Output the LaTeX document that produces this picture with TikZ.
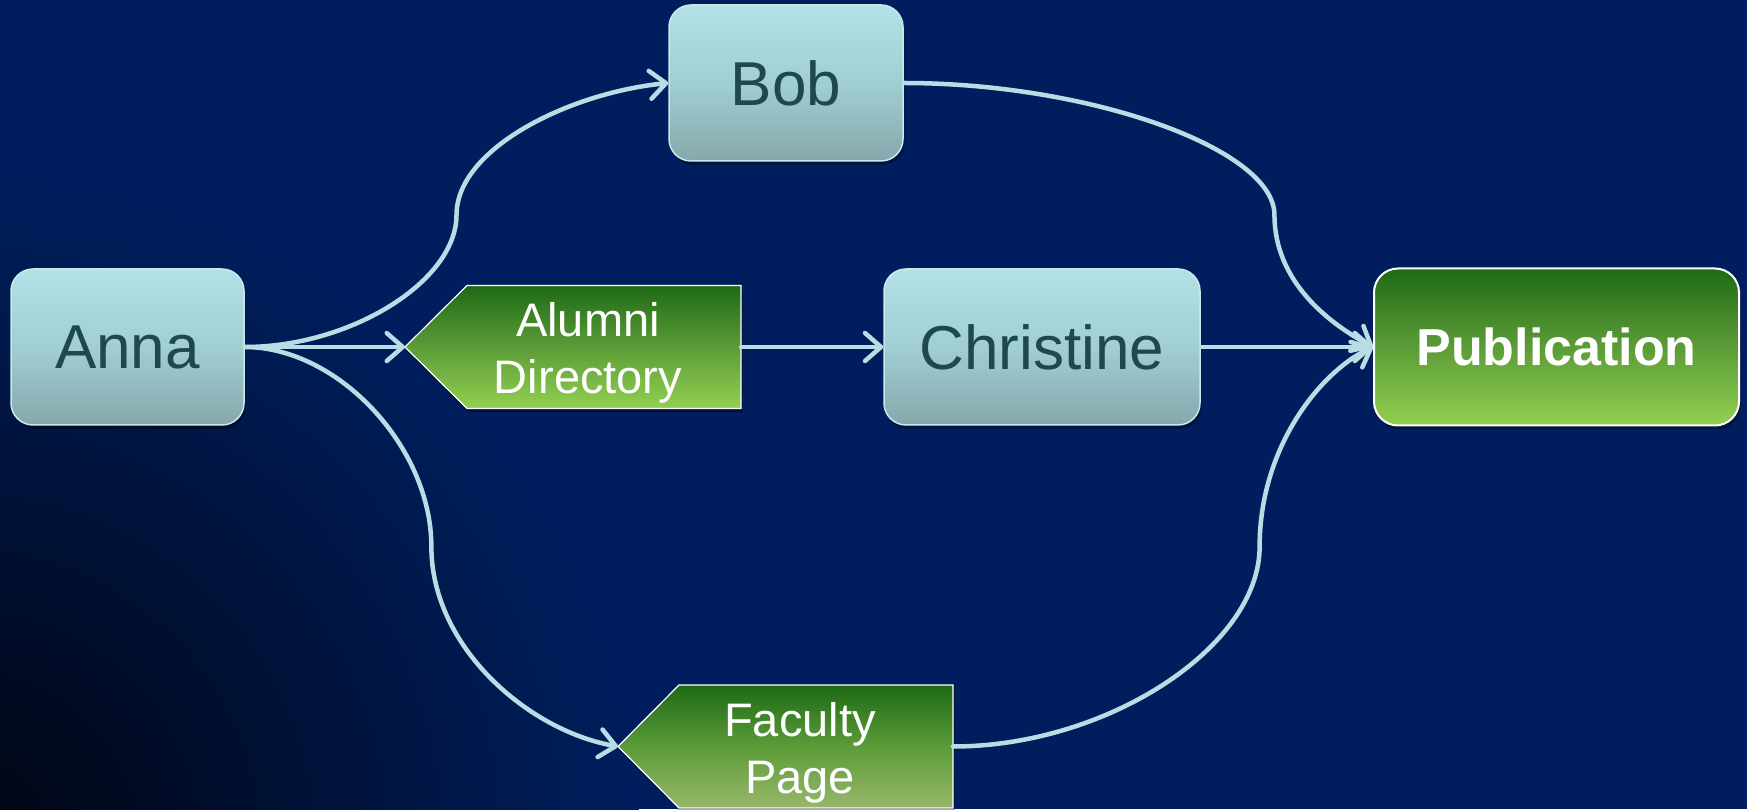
\documentclass[tikz,border=0pt]{standalone}
\usepackage{fontspec}
\setmainfont{Liberation Sans}
\usetikzlibrary{arrows.meta,calc,shadows}

\definecolor{navy}{RGB}{0,30,94}
\definecolor{darkcorner}{RGB}{0,4,14}
\definecolor{boxtop}{RGB}{178,225,230}
\definecolor{boxmid}{RGB}{160,206,211}
\definecolor{boxbot}{RGB}{134,168,171}
\definecolor{boxline}{RGB}{200,234,238}
\definecolor{boxtext}{RGB}{30,72,74}
\definecolor{gtop}{RGB}{30,106,22}
\definecolor{gmid}{RGB}{92,156,56}
\definecolor{gbot}{RGB}{146,208,80}
\definecolor{gbotf}{RGB}{152,183,106}
\definecolor{connc}{RGB}{183,222,228}

\begin{document}
\begin{tikzpicture}[x=1pt,y=1pt,
  softshadow/.style={drop shadow={shadow xshift=1.5pt,shadow yshift=-4pt,opacity=0.35,fill=black}},
  person/.style={rectangle, rounded corners=22pt, draw=boxline, line width=1.5pt,
    top color=boxtop, bottom color=boxbot, middle color=boxmid,
    text=boxtext, font=\fontsize{62}{74}\selectfont, inner sep=0pt, softshadow},
  pubbox/.style={rectangle, rounded corners=24pt, draw=white, line width=2pt,
    top color=gtop, bottom color=gbot, middle color=gmid,
    text=white, font=\fontsize{52}{62}\selectfont\bfseries, inner sep=0pt, softshadow},
  bodybox/.style={rectangle, inner sep=0pt, outer sep=0pt, minimum width=274pt, minimum height=123pt},
  pent/.style={draw=white, line width=1.2pt, line join=miter, top color=gtop, middle color=gmid, softshadow},
  penttext/.style={text=white, font=\fontsize{47}{57}\selectfont, align=center, inner sep=0pt},
  conn/.style={draw=connc, line width=4.5pt, line cap=round,
    -{Straight Barb[length=16pt,width=28pt,round]}}
]
\useasboundingbox (0,0) rectangle (1747,809);
\fill[navy] (0,0) rectangle (1747,809);
\begin{scope}
  \clip (0,0) rectangle (1747,809);
  \shade[inner color=darkcorner, outer color=navy] (-40,-40) circle (680);
\end{scope}

% pentagon shapes
\node[bodybox] (alum) at (604,462) {};
\coordinate (alumtip) at ([xshift=-62pt]alum.west);
\shade[pent, bottom color=gbot, middle color=gmid] (alum.north east) -- (alum.south east) -- (alum.south west) -- (alumtip) -- (alum.north west) -- cycle;
\node[penttext] (alumtxt) at ([xshift=-16pt,yshift=-6pt]alum.center) {Alumni\\Directory};

\node[bodybox] (fac) at (816,62.5) {};
\coordinate (factip) at ([xshift=-61pt]fac.west);
\shade[pent, bottom color=gbotf, middle color=gmid] (fac.north east) -- (fac.south east) -- (fac.south west) -- (factip) -- (fac.north west) -- cycle;
\node[penttext] (factxt) at ([xshift=-16pt,yshift=-6pt]fac.center) {Faculty\\Page};

% rounded boxes
\node[person, minimum width=233pt, minimum height=156pt] (anna) at (127.5,462) {Anna};
\node[person, minimum width=234pt, minimum height=156pt] (bob) at (786,726) {Bob};
\node[person, minimum width=316pt, minimum height=156pt] (chris) at (1042,462) {Christine};
\node[pubbox, minimum width=365pt, minimum height=157pt] (pub) at (1556.5,462) {Publication};

% helper coordinates for the curved connectors
\coordinate (m1) at ($(anna.east)!0.5!(bob.west)$);
\coordinate (m2) at ($(anna.east)!0.5!(factip)$);
\coordinate (m3x) at ($(bob.east)!0.79!(pub.west)$);
\coordinate (m3y) at ($(bob.east)!0.5!(pub.west)$);
\coordinate (m3) at (m3x |- m3y);
\coordinate (m4x) at ($(fac.east)!0.73!(pub.west)$);
\coordinate (m4y) at ($(fac.east)!0.5!(pub.west)$);
\coordinate (m4) at (m4x |- m4y);

% connectors
\draw[conn] (anna.east) .. controls +(106,0) and +(0,-66) .. (m1)
  .. controls +(0,66) and +(-100,-10) .. (bob.west);
\draw[conn] (anna.east) .. controls +(93,0) and +(0,100) .. (m2)
  .. controls +(0,-100) and +(-90,16) .. (factip);
\draw[conn] (anna.east) -- (alumtip);
\draw[conn] (alum.east) -- (chris.west);
\draw[conn] (chris.east) -- (pub.west);
\draw[conn] (bob.east) .. controls +(186,0) and +(0,66) .. (m3)
  .. controls +(0,-66) and +(-45,24) .. (pub.west);
\draw[conn] (fac.east) .. controls +(154,0) and +(0,-100) .. (m4)
  .. controls +(0,100) and +(-52,-24) .. (pub.west);
\end{tikzpicture}
\end{document}
